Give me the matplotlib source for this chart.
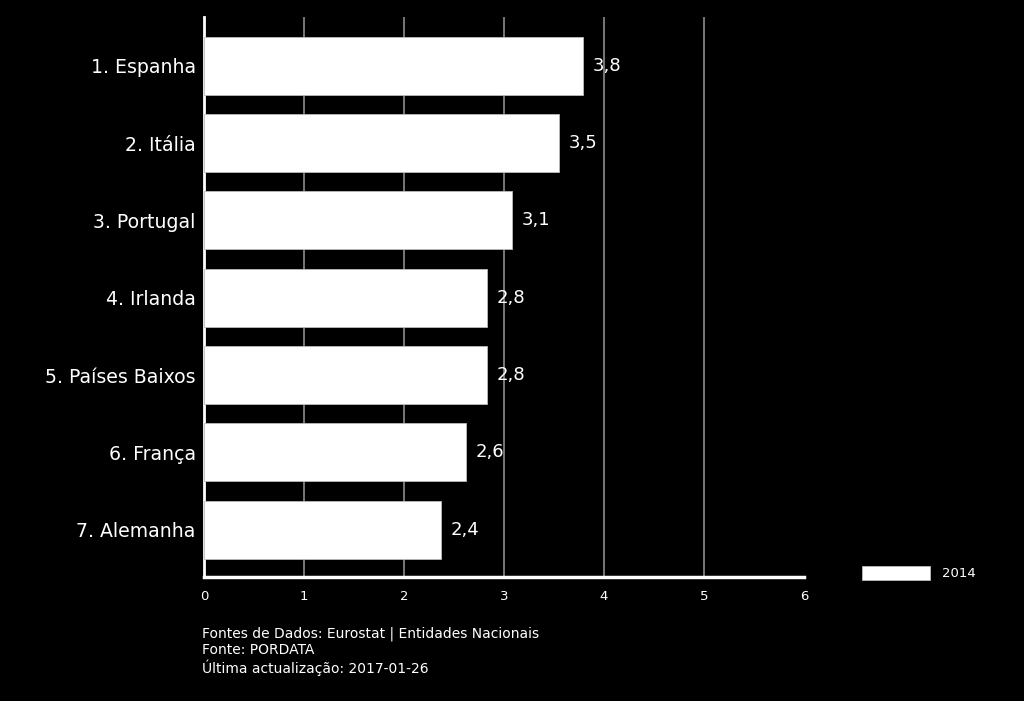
import matplotlib.pyplot as plt
import numpy as np

# dados
paises = ['1. Espanha', '2. Itália', '3. Portugal', '4. Irlanda',
          '5. Países Baixos', '6. França', '7. Alemanha']
valores = [3.79, 3.55, 3.08, 2.83, 2.83, 2.62, 2.37]
rotulos = ['3,8', '3,5', '3,1', '2,8', '2,8', '2,6', '2,4']
ticks_x = [0, 1, 2, 3, 4, 5, 6]
serie = '2014'
notas = ['Fontes de Dados: Eurostat | Entidades Nacionais',
         'Fonte: PORDATA',
         'Última actualização: 2017-01-26']

plt.rcParams['font.family'] = ['DejaVu Sans']

fig = plt.figure(figsize=(10.24, 7.01), dpi=100, facecolor='black')
ax = fig.add_axes([204 / 1024, 1 - 577 / 701, 600 / 1024, 560 / 701])
ax.set_facecolor('black')

y = np.arange(len(paises))
ax.barh(y, valores, height=0.75, color='white', edgecolor='#bbbbbb',
        linewidth=0.6, label=serie, zorder=3)

for yi, v, r in zip(y, valores, rotulos):
    ax.text(v + 0.1, yi, r, color='white', fontsize=13, va='center',
            ha='left', zorder=4)

ax.set_yticks(y)
ax.set_yticklabels(paises, color='white', fontsize=13.6)
ax.set_ylim(len(paises) - 1 + 0.61, -0.63)
ax.set_xlim(0, 6)
ax.set_xticks(ticks_x)
ax.set_xticklabels([str(t) for t in ticks_x], color='white', fontsize=9.5)
ax.tick_params(axis='both', length=0, pad=6)
ax.tick_params(axis='x', pad=9)

for t in ticks_x[1:-1]:
    ax.axvline(t, color='#8c8c8c', linewidth=1.2, zorder=1)

for s in ['top', 'right']:
    ax.spines[s].set_visible(False)
ax.spines['left'].set_color('white')
ax.spines['left'].set_linewidth(2)
ax.spines['bottom'].set_color('white')
ax.spines['bottom'].set_linewidth(2.5)

leg = fig.legend(loc='center left', bbox_to_anchor=(850 / 1024, 1 - 573 / 701),
                 frameon=False, fontsize=9.5, handlelength=5.2,
                 handleheight=1.3, handletextpad=0.9)
for txt in leg.get_texts():
    txt.set_color('white')

fig.text(202 / 1024, 1 - 651 / 701, '\n'.join(notas), color='white',
         fontsize=10, va='center', ha='left', linespacing=1.2)

fig.savefig('out.png', dpi=100, facecolor='black')
